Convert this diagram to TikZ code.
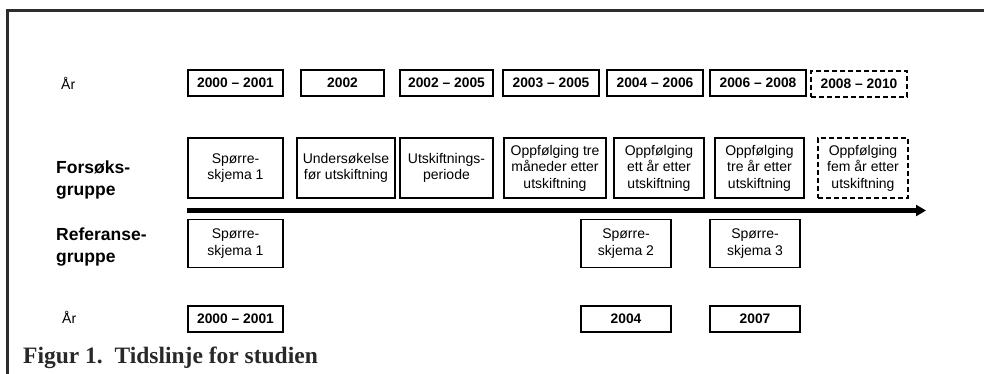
\documentclass[tikz,border=0pt]{standalone}
\usepackage{fontspec}
\setmainfont{Liberation Sans}
\newfontfamily\capfont{Liberation Serif}
\usetikzlibrary{arrows.meta}
\definecolor{framegray}{RGB}{45,45,45}
\definecolor{capgray}{RGB}{40,40,40}
\begin{document}
\begin{tikzpicture}[x=1pt,y=-1pt,
  box/.style={draw=black, line width=1.1pt, inner sep=0pt, align=center,
    font=\fontsize{14}{16.5}\selectfont},
  yearbox/.style={box, minimum height=26pt, font=\fontsize{13.8}{16}\selectfont\bfseries},
  dashedbox/.style={dash pattern=on 5pt off 3pt},
  grouplabel/.style={anchor=base west, align=left, inner sep=0pt,
    font=\fontsize{17.5}{21.5}\selectfont\bfseries},
  yearlabel/.style={anchor=west, inner sep=0pt, font=\fontsize{14}{16}\selectfont},
  timeline/.style={line width=4.5pt, -{Triangle[length=10pt,width=11pt]}}]
\useasboundingbox (0,0) rectangle (984,374);
% frame
\draw[framegray, line width=2.6pt] (7.5,374) -- (7.5,10.5) -- (984,10.5);

% labels
\node[yearlabel] (arTop) at (61,83) {År};
\node[yearlabel] (arBot) at (62,317) {År};
\node[grouplabel] (forsok) at (56,195) {Forsøks-\\gruppe};
\node[grouplabel] (referanse) at (56,262) {Referanse-\\gruppe};

% top year row
\node[yearbox, minimum width=95pt] (y1) at (235.5,83) {2000 – 2001};
\node[yearbox, minimum width=83pt] (y2) at (342.5,83) {2002};
\node[yearbox, minimum width=93pt] (y3) at (446.5,83) {2002 – 2005};
\node[yearbox, minimum width=96pt] (y4) at (551,83) {2003 – 2005};
\node[yearbox, minimum width=96pt] (y5) at (655,83) {2004 – 2006};
\node[yearbox, minimum width=96pt] (y6) at (758,83) {2006 – 2008};
\node[yearbox, dashedbox, minimum width=96pt] (y7) at (859,84) {2008 – 2010};

% Forsøksgruppe row
\node[box, minimum width=95pt, minimum height=60pt] (a) at (235.5,168) {Spørre-\\skjema 1};
\node[box, minimum width=98pt, minimum height=60pt] (b) at (346,168) {Undersøkelse\\før utskiftning};
\node[box, minimum width=93pt, minimum height=60pt] (c) at (446.5,168) {Utskiftnings-\\periode};
\node[box, minimum width=102pt, minimum height=60pt] (d) at (555,168) {Oppfølging tre\\måneder etter\\utskiftning};
\node[box, minimum width=90pt, minimum height=60pt] (e) at (659,168) {Oppfølging\\ett år etter\\utskiftning};
\node[box, minimum width=89pt, minimum height=60pt] (f) at (759.5,168) {Oppfølging\\tre år etter\\utskiftning};
\node[box, dashedbox, minimum width=90pt, minimum height=60pt] (g) at (863,168) {Oppfølging\\fem år etter\\utskiftning};

% timeline
\coordinate (ts) at (187,210.5);
\coordinate (te) at (926,210.5);
\draw[timeline] (ts) -- (te);

% Referansegruppe row
\node[box, minimum width=95pt, minimum height=48pt] (r1) at (235.5,243.5) {Spørre-\\skjema 1};
\node[box, minimum width=90pt, minimum height=48pt] (r2) at (626,243.5) {Spørre-\\skjema 2};
\node[box, minimum width=90pt, minimum height=48pt] (r3) at (755,243.5) {Spørre-\\skjema 3};

% bottom year row
\node[yearbox, minimum width=95pt] (b1) at (235.5,319) {2000 – 2001};
\node[yearbox, minimum width=90pt] (b2) at (626,319) {2004};
\node[yearbox, minimum width=90pt] (b3) at (755,319) {2007};

% caption
\node[anchor=base west, inner sep=0pt, text=capgray, font=\capfont\fontsize{23.5}{27}\selectfont\bfseries] (cap) at (23,363) {Figur 1.\ \ Tidslinje for studien};
\end{tikzpicture}
\end{document}
